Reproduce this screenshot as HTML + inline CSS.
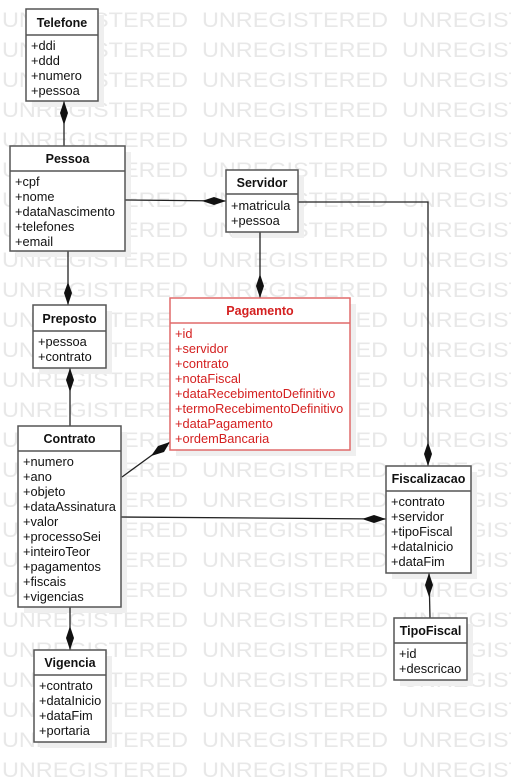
<!DOCTYPE html>
<html><head><meta charset="utf-8"><style>
html,body{margin:0;padding:0;background:#fff;width:511px;height:782px;overflow:hidden}
svg{display:block}
.wm{font-family:"Liberation Sans",sans-serif;font-size:21px;fill:#e8e8e8}
.t{font-family:"Liberation Sans",sans-serif;font-size:12.5px;font-weight:bold;fill:#111}
.a{font-family:"Liberation Sans",sans-serif;font-size:12.8px;fill:#111}
.r{fill:#d42020}
</style></head><body>
<svg width="511" height="782" viewBox="0 0 511 782" xmlns="http://www.w3.org/2000/svg">
<defs>
<pattern id="wm" x="0" y="0" width="200" height="30" patternUnits="userSpaceOnUse">
<text class="wm" x="2" y="27" textLength="186" lengthAdjust="spacingAndGlyphs">UNREGISTERED</text>
</pattern>
</defs>
<rect x="0" y="0" width="511" height="782" fill="url(#wm)"/>
<!-- shadows -->
<g fill="#efefef">
<rect x="32" y="15" width="72" height="92"/>
<rect x="16" y="152" width="115" height="105"/>
<rect x="232" y="176" width="72" height="62"/>
<rect x="176" y="304" width="180" height="152"/>
<rect x="39" y="311" width="73" height="63"/>
<rect x="24" y="432" width="103" height="181"/>
<rect x="392" y="472" width="85" height="107"/>
<rect x="400" y="624" width="73" height="62"/>
<rect x="40" y="656" width="72" height="92"/>
</g>
<!-- connectors -->
<g stroke="#222" stroke-width="1.3" fill="none">
<line x1="64" y1="101" x2="64" y2="146"/>
<line x1="125" y1="200" x2="226" y2="201"/>
<line x1="68" y1="251" x2="68" y2="305"/>
<line x1="260" y1="232" x2="260" y2="298"/>
<polyline points="298,202 428,202 428,466"/>
<line x1="70" y1="368" x2="70" y2="426"/>
<line x1="122" y1="477" x2="170" y2="442"/>
<line x1="121" y1="517" x2="386" y2="519"/>
<line x1="429" y1="573" x2="430" y2="618"/>
<line x1="70" y1="607" x2="70" y2="650"/>
</g>
<g fill="#111">
<polygon points="64,101 68,113 64,125 60,113"/>
<polygon points="226,201 214,205 202,201 214,197"/>
<polygon points="68,305 64,293 68,282 72,293"/>
<polygon points="260,298 256,286 260,274 264,286"/>
<polygon points="428,466 424,454 428,442 432,454"/>
<polygon points="70,368 74,380 70,392 66,380"/>
<polygon points="170,442 164,452 151,456 158,446"/>
<polygon points="386,519 374,523 362,519 374,515"/>
<polygon points="429,573 433,585 429,597 425,585"/>
<polygon points="70,650 66,638 70,626 74,638"/>
</g>
<!-- boxes -->
<g fill="#fff" stroke="#555" stroke-width="1.5">
<rect x="26" y="9" width="72" height="92"/>
<rect x="10" y="146" width="115" height="105"/>
<rect x="226" y="170" width="72" height="62"/>
<rect x="33" y="305" width="73" height="63"/>
<rect x="18" y="426" width="103" height="181"/>
<rect x="386" y="466" width="85" height="107"/>
<rect x="394" y="618" width="73" height="62"/>
<rect x="34" y="650" width="72" height="92"/>
</g>
<rect x="170" y="298" width="180" height="152" fill="#fff" stroke="#e06a6a" stroke-width="1.5"/>
<g stroke="#555" stroke-width="1.5">
<line x1="26" y1="35" x2="98" y2="35"/>
<line x1="10" y1="171" x2="125" y2="171"/>
<line x1="226" y1="194" x2="298" y2="194"/>
<line x1="33" y1="331" x2="106" y2="331"/>
<line x1="18" y1="451" x2="121" y2="451"/>
<line x1="386" y1="491" x2="471" y2="491"/>
<line x1="394" y1="643" x2="467" y2="643"/>
<line x1="34" y1="675" x2="106" y2="675"/>
</g>
<line x1="170" y1="323" x2="350" y2="323" stroke="#e06a6a" stroke-width="1.5"/>
<!-- text -->
<g class="t" text-anchor="middle">
<text x="62" y="27">Telefone</text>
<text x="67.5" y="163">Pessoa</text>
<text x="262" y="187">Servidor</text>
<text x="260" y="315" class="t r">Pagamento</text>
<text x="69.5" y="323">Preposto</text>
<text x="69.5" y="443">Contrato</text>
<text x="428.5" y="483">Fiscalizacao</text>
<text x="430.5" y="635">TipoFiscal</text>
<text x="70" y="667">Vigencia</text>
</g>
<g class="a">
<text x="31" y="50">+ddi</text><text x="31" y="65">+ddd</text><text x="31" y="80">+numero</text><text x="31" y="95">+pessoa</text>
<text x="15" y="186">+cpf</text><text x="15" y="201">+nome</text><text x="15" y="216">+dataNascimento</text><text x="15" y="231">+telefones</text><text x="15" y="246">+email</text>
<text x="231" y="210">+matricula</text><text x="231" y="225">+pessoa</text>
<text x="38" y="346">+pessoa</text><text x="38" y="361">+contrato</text>
<text x="23" y="466">+numero</text><text x="23" y="481">+ano</text><text x="23" y="496">+objeto</text><text x="23" y="511">+dataAssinatura</text><text x="23" y="526">+valor</text><text x="23" y="541">+processoSei</text><text x="23" y="556">+inteiroTeor</text><text x="23" y="571">+pagamentos</text><text x="23" y="586">+fiscais</text><text x="23" y="601">+vigencias</text>
<text x="391" y="506">+contrato</text><text x="391" y="521">+servidor</text><text x="391" y="536">+tipoFiscal</text><text x="391" y="551">+dataInicio</text><text x="391" y="566">+dataFim</text>
<text x="399" y="658">+id</text><text x="399" y="673">+descricao</text>
<text x="39" y="690">+contrato</text><text x="39" y="705">+dataInicio</text><text x="39" y="720">+dataFim</text><text x="39" y="735">+portaria</text>
</g>
<g class="a r">
<text x="175" y="338">+id</text><text x="175" y="353">+servidor</text><text x="175" y="368">+contrato</text><text x="175" y="383">+notaFiscal</text><text x="175" y="398">+dataRecebimentoDefinitivo</text><text x="175" y="413">+termoRecebimentoDefinitivo</text><text x="175" y="428">+dataPagamento</text><text x="175" y="443">+ordemBancaria</text>
</g>
</svg>
</body></html>
